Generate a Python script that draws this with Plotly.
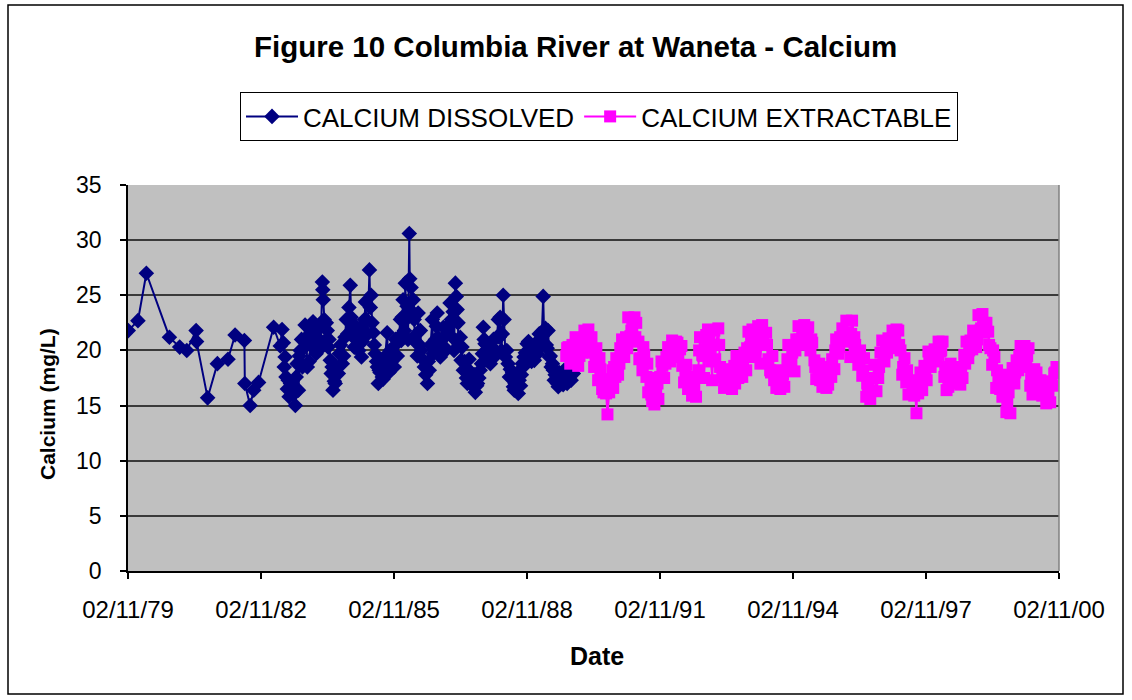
import plotly.graph_objects as go
import pandas as pd

# ---------------- data (decimal years, mg/L) ----------------
dissolved_years = [
    1979.84, 1980.06, 1980.25, 1980.77, 1981.00, 1981.16, 1981.37, 1981.38, 1981.63, 1981.85,
    1982.09, 1982.25, 1982.46, 1982.47, 1982.59, 1982.67, 1982.78, 1983.12, 1983.27,
    1983.31, 1983.34, 1983.38, 1983.40, 1983.45, 1983.47, 1983.54, 1983.61, 1983.63, 1983.68,
    1983.72, 1983.77, 1983.83, 1983.88, 1983.95, 1984.01, 1984.04, 1984.08, 1984.15, 1984.22,
    1984.23, 1984.24, 1984.26, 1984.29, 1984.33, 1984.35, 1984.40, 1984.42, 1984.46, 1984.51,
    1984.58, 1984.60, 1984.67, 1984.73, 1984.76, 1984.82, 1984.85, 1984.87, 1984.92, 1984.94,
    1985.01, 1985.08, 1985.10, 1985.14, 1985.19, 1985.21, 1985.28, 1985.30, 1985.34, 1985.37,
    1985.41, 1985.46, 1985.48, 1985.52, 1985.57, 1985.61, 1985.68, 1985.70, 1985.75, 1985.82,
    1985.84, 1985.91, 1985.98, 1986.00, 1986.04, 1986.07, 1986.09, 1986.11, 1986.18, 1986.19,
    1986.22, 1986.27, 1986.29, 1986.34, 1986.38, 1986.43, 1986.45, 1986.52, 1986.59, 1986.63,
    1986.70, 1986.72, 1986.77, 1986.81, 1986.83, 1986.88, 1986.95, 1986.97, 1987.04, 1987.10,
    1987.13, 1987.15, 1987.22, 1987.24, 1987.26, 1987.33, 1987.35, 1987.40, 1987.47, 1987.51,
    1987.56, 1987.60, 1987.67, 1987.72, 1987.78, 1987.83, 1987.85, 1987.89, 1987.94, 1988.01,
    1988.05, 1988.12, 1988.19, 1988.21, 1988.26, 1988.30, 1988.32, 1988.35, 1988.41, 1988.44,
    1988.48, 1988.53, 1988.57, 1988.64, 1988.66, 1988.71, 1988.75, 1988.77, 1988.84, 1988.91,
    1988.98, 1989.00, 1989.04, 1989.09, 1989.13, 1989.20, 1989.22, 1989.27, 1989.31, 1989.34,
    1989.38, 1989.43, 1989.45, 1989.49, 1989.54, 1989.58, 1989.65, 1989.70, 1989.74, 1989.79,
    1989.83, 1989.88,
]
dissolved_values = [
    21.8, 22.7, 27.0, 21.2, 20.3, 20.0, 21.8, 20.8, 15.7, 18.8,
    19.2, 21.4, 20.9, 17.0, 15.0, 16.4, 17.1, 22.1, 20.4,
    21.9, 20.7, 19.4, 17.6, 17.3, 15.8, 16.5, 15.0, 17.6, 16.4,
    20.0, 18.5, 22.3, 18.5, 20.5, 22.6, 21.2, 19.7, 21.0, 26.2,
    25.5, 24.6, 22.8, 20.9, 21.8, 20.3, 19.1, 17.9, 16.4, 17.0,
    17.9, 19.7, 18.8, 21.2, 22.8, 23.9, 25.9, 23.0, 21.8, 20.3,
    21.0, 22.1, 19.4, 21.5, 24.4, 22.8, 27.3, 23.9, 22.5, 21.6,
    19.7, 18.5, 17.0, 18.0, 17.6, 18.3, 21.6, 19.1, 20.0, 20.3,
    18.5, 19.5, 22.8, 20.9, 24.6, 21.8, 26.1, 22.8, 30.6, 26.5,
    25.7, 24.6, 22.8, 21.5, 23.4, 21.8, 20.0, 18.5, 17.0, 18.2,
    22.8, 19.7, 21.0, 23.4, 21.2, 19.4, 22.1, 20.3, 21.5, 24.3,
    22.8, 21.2, 26.1, 24.9, 23.7, 21.2, 19.1, 18.2, 17.5, 18.2,
    17.3, 16.8, 16.2, 17.0, 18.2, 19.7, 22.1, 20.6, 19.1, 18.8,
    20.3, 19.5, 22.8, 21.2, 20.0, 25.0, 22.8, 19.4, 18.8, 17.6,
    17.5, 16.7, 17.0, 16.1, 17.3, 17.8, 18.5, 19.4, 20.6, 19.5,
    20.3, 19.1, 20.0, 20.9, 20.5, 24.9, 21.6, 20.5, 21.8, 19.4,
    18.5, 18.2, 17.3, 17.8, 16.7, 17.3, 16.9, 17.5, 17.0, 17.9,
    17.3, 17.9,
]
# additional dissolved samples inside the dense 1983-1989 mass
dissolved_years_b = [
    1983.36, 1983.43, 1983.50, 1983.57, 1983.65, 1983.70, 1983.75, 1983.80, 1983.86, 1983.92,
    1983.98, 1984.06, 1984.11, 1984.18, 1984.31, 1984.37, 1984.44, 1984.49, 1984.54, 1984.63,
    1984.70, 1984.79, 1984.90, 1984.97, 1985.04, 1985.12, 1985.17, 1985.24, 1985.32, 1985.39,
    1985.44, 1985.50, 1985.55, 1985.59, 1985.64, 1985.72, 1985.78, 1985.87, 1985.94, 1986.02,
    1986.13, 1986.15, 1986.25, 1986.31, 1986.36, 1986.41, 1986.48, 1986.55, 1986.61, 1986.66,
    1986.75, 1986.79, 1986.86, 1986.92, 1987.00, 1987.07, 1987.17, 1987.19, 1987.28, 1987.30,
    1987.37, 1987.43, 1987.49, 1987.53, 1987.58, 1987.63, 1987.65, 1987.70, 1987.75, 1987.81,
    1987.87, 1987.92, 1987.97, 1988.03, 1988.08, 1988.15, 1988.23, 1988.28, 1988.38, 1988.46,
    1988.51, 1988.55, 1988.60, 1988.69, 1988.73, 1988.80, 1988.87, 1988.94, 1989.02, 1989.07,
    1989.11, 1989.16, 1989.25, 1989.29, 1989.36, 1989.41, 1989.47, 1989.52, 1989.56, 1989.61,
    1989.67, 1989.72, 1989.77,
]
dissolved_values_b = [
    18.5, 16.5, 17.0, 16.0, 18.8, 19.5, 21.0, 20.2, 21.2, 19.0,
    21.8, 20.5, 22.0, 20.2, 22.5, 21.0, 18.5, 17.2, 18.5, 20.5,
    19.5, 21.5, 22.5, 21.0, 20.0, 20.8, 22.8, 21.5, 25.0, 20.5,
    19.0, 18.2, 19.0, 17.4, 19.5, 18.0, 19.0, 21.0, 21.2, 23.0,
    24.0, 21.0, 23.5, 20.8, 19.5, 20.5, 19.2, 17.8, 19.0, 20.5,
    20.0, 22.2, 20.0, 21.0, 20.0, 22.3, 23.5, 20.0, 22.5, 20.5,
    20.3, 19.0, 17.0, 19.2, 18.0, 17.5, 17.8, 16.8, 17.5, 18.8,
    21.0, 20.5, 19.5, 19.8, 21.0, 21.2, 23.0, 21.5, 20.0, 18.3,
    18.0, 16.4, 17.8, 16.8, 18.8, 19.8, 20.8, 19.0, 20.2, 19.7,
    21.5, 20.5, 22.0, 20.2, 19.5, 18.8, 17.8, 17.0, 18.0, 17.0,
    18.2, 17.5, 17.5,
]

extractable_years = [
    1989.72, 1989.77, 1989.81, 1989.86, 1989.90, 1989.95, 1989.99, 1990.04, 1990.08, 1990.13,
    1990.17, 1990.22, 1990.26, 1990.31, 1990.35, 1990.40, 1990.44, 1990.49, 1990.53, 1990.58,
    1990.62, 1990.65, 1990.69, 1990.74, 1990.78,
    1990.80, 1990.85, 1990.89, 1990.94, 1990.98, 1991.03, 1991.07, 1991.12, 1991.17, 1991.21,
    1991.26, 1991.30, 1991.35, 1991.39, 1991.44, 1991.48, 1991.53, 1991.57, 1991.62, 1991.66,
    1991.71, 1991.75, 1991.80,
    1991.84, 1991.89, 1991.93, 1991.98, 1992.02, 1992.07, 1992.11, 1992.16, 1992.20, 1992.25,
    1992.29, 1992.34, 1992.38, 1992.43, 1992.47, 1992.52, 1992.56, 1992.61, 1992.65,
    1992.70, 1992.74, 1992.79, 1992.83, 1992.88, 1992.92, 1992.97, 1993.01, 1993.06, 1993.10,
    1993.15, 1993.19, 1993.24, 1993.28, 1993.33, 1993.37, 1993.42, 1993.46,
    1993.51, 1993.56, 1993.60, 1993.65, 1993.69, 1993.74, 1993.78, 1993.83, 1993.87, 1993.92,
    1993.96, 1994.01, 1994.05, 1994.10, 1994.14, 1994.19, 1994.23, 1994.28, 1994.32, 1994.37,
    1994.41, 1994.46, 1994.50, 1994.55, 1994.59, 1994.64,
    1994.69, 1994.73, 1994.78, 1994.82, 1994.87, 1994.91, 1994.96, 1995.00, 1995.05, 1995.09,
    1995.14, 1995.18, 1995.23, 1995.27, 1995.32, 1995.36, 1995.41, 1995.45, 1995.50, 1995.54,
    1995.59, 1995.63,
    1995.68, 1995.72, 1995.77, 1995.81, 1995.86, 1995.90, 1995.95, 1995.99, 1996.04, 1996.08,
    1996.13, 1996.17, 1996.22, 1996.26, 1996.31, 1996.35, 1996.40, 1996.44, 1996.49, 1996.53,
    1996.58, 1996.62,
    1996.67, 1996.72, 1996.76, 1996.81, 1996.85, 1996.90, 1996.94, 1996.99, 1997.03, 1997.08,
    1997.12, 1997.17, 1997.21, 1997.26, 1997.30, 1997.35, 1997.39, 1997.44, 1997.48, 1997.53,
    1997.57, 1997.62, 1997.66,
    1997.71, 1997.75, 1997.80, 1997.85, 1997.89, 1997.94, 1997.98, 1998.03, 1998.07, 1998.12,
    1998.16, 1998.21, 1998.25, 1998.30, 1998.34, 1998.39, 1998.43, 1998.48, 1998.52, 1998.57,
    1998.61, 1998.66,
    1998.70, 1998.75, 1998.79, 1998.84, 1998.88, 1998.93, 1998.97, 1999.02, 1999.06, 1999.11,
    1999.15, 1999.20, 1999.24, 1999.29, 1999.33, 1999.38, 1999.42, 1999.47, 1999.51, 1999.56,
    1999.60,
    1999.65, 1999.70, 1999.74, 1999.79, 1999.83, 1999.88, 1999.92, 1999.97, 2000.01, 2000.06,
    2000.10, 2000.15, 2000.19, 2000.24, 2000.28, 2000.33, 2000.37, 2000.42, 2000.46, 2000.51,
    2000.55, 2000.60, 2000.64, 2000.69, 2000.73, 2000.78,
]
extractable_values = [
    19.5, 20.3, 18.8, 20.5, 19.2, 20.6, 18.6, 20.9, 19.8, 21.8,
    20.9, 21.9, 20.9, 19.8, 18.5, 20.2, 17.3, 18.3, 16.5, 17.4,
    16.1, 14.2, 16.2, 17.3, 16.6,
    18.5, 19.3, 17.8, 20.2, 21.0, 19.4, 21.2, 23.0, 21.3, 22.0,
    23.0, 22.5, 20.8, 19.3, 18.2, 19.6, 17.6, 16.2, 17.2, 15.4,
    15.1, 16.3, 15.6,
    17.6, 18.6, 17.5, 19.4, 20.3, 19.0, 20.9, 20.1, 20.8, 19.4,
    20.1, 18.6, 17.1, 18.7, 16.5, 17.4, 15.9, 16.8, 15.8,
    18.2, 21.2, 19.6, 17.5, 21.4, 21.9, 19.8, 17.3, 21.8, 20.5,
    22.0, 18.5, 17.6, 16.6, 18.3, 16.8, 17.5, 16.5,
    18.6, 19.5, 17.5, 19.2, 17.6, 19.8, 18.2, 21.7, 20.3, 21.9,
    19.4, 21.6, 22.2, 18.8, 22.3, 20.5, 21.6, 19.2, 18.2, 19.5,
    17.3, 16.6, 17.8, 16.5, 17.1, 16.7,
    18.2, 20.5, 18.5, 19.8, 18.1, 21.0, 22.2, 20.5, 21.8, 22.3,
    20.6, 22.1, 20.0, 20.7, 19.1, 17.4, 18.2, 17.3, 16.7, 17.6,
    16.6, 16.9,
    18.5, 19.2, 18.3, 21.0, 19.7, 21.2, 22.0, 20.8, 22.7, 21.6,
    19.4, 22.7, 21.2, 19.6, 18.7, 20.0, 17.7, 19.3, 15.8, 16.5,
    15.6, 16.4,
    18.7, 16.3, 17.5, 19.8, 20.9, 19.0, 20.4, 21.1, 20.2, 21.8,
    20.8, 21.9, 21.8, 20.0, 17.8, 19.3, 17.1, 16.0, 17.3, 16.4,
    15.9, 14.3, 16.1,
    18.0, 16.4, 18.6, 17.3, 19.9, 18.5, 19.2, 20.1, 19.0, 20.8,
    19.9, 20.8, 17.6, 16.4, 16.7, 18.8, 17.9, 18.4, 17.0, 17.8,
    16.9, 17.5,
    19.6, 20.8, 19.3, 20.9, 20.1, 21.2, 20.3, 23.2, 21.8, 23.3,
    21.6, 22.5, 21.7, 20.2, 18.7, 19.4, 16.6, 17.5, 16.5, 15.8,
    16.7,
    14.4, 16.2, 14.3, 18.4, 17.0, 19.1, 18.2, 20.4, 19.2, 20.4,
    18.5, 20.2, 16.8, 16.0, 18.3, 18.0, 16.5, 17.3, 15.9, 16.2,
    15.2, 15.8, 15.3, 16.8, 17.9, 18.5,
]
# additional extractable samples that thicken each seasonal band
extractable_years_b = [
    1989.74, 1989.84, 1989.93, 1990.02, 1990.11, 1990.20, 1990.29, 1990.38, 1990.47, 1990.56,
    1990.71, 1990.76,
    1990.83, 1990.92, 1991.01, 1991.10, 1991.19, 1991.28, 1991.37, 1991.46, 1991.55, 1991.64,
    1991.73, 1991.78,
    1991.87, 1991.96, 1992.05, 1992.14, 1992.23, 1992.32, 1992.41, 1992.50, 1992.59, 1992.63,
    1992.72, 1992.81, 1992.90, 1992.99, 1993.08, 1993.17, 1993.26, 1993.35, 1993.44,
    1993.53, 1993.62, 1993.71, 1993.80, 1993.89, 1993.98, 1994.07, 1994.16, 1994.25, 1994.34,
    1994.43, 1994.52, 1994.61,
    1994.71, 1994.80, 1994.89, 1994.98, 1995.07, 1995.16, 1995.25, 1995.34, 1995.43, 1995.52,
    1995.61,
    1995.70, 1995.79, 1995.88, 1995.97, 1996.06, 1996.15, 1996.24, 1996.33, 1996.42, 1996.51,
    1996.60,
    1996.70, 1996.78, 1996.87, 1996.96, 1997.05, 1997.14, 1997.23, 1997.32, 1997.41, 1997.50,
    1997.59, 1997.64,
    1997.73, 1997.82, 1997.91, 1998.00, 1998.10, 1998.18, 1998.27, 1998.36, 1998.45, 1998.54,
    1998.63,
    1998.72, 1998.81, 1998.90, 1998.99, 1999.08, 1999.17, 1999.26, 1999.35, 1999.44, 1999.53,
    1999.58,
    1999.67, 1999.76, 1999.85, 1999.94, 2000.03, 2000.12, 2000.21, 2000.30, 2000.39, 2000.48,
    2000.57, 2000.66, 2000.75,
]
extractable_values_b = [
    20.2, 19.6, 21.2, 19.5, 21.0, 20.5, 21.2, 19.0, 19.3, 16.2,
    17.0, 18.2,
    17.6, 18.8, 20.8, 20.2, 21.8, 21.2, 19.2, 20.3, 18.8, 16.0,
    17.5, 17.0,
    19.0, 18.8, 19.8, 19.5, 20.7, 20.4, 18.0, 17.0, 16.4, 17.6,
    20.0, 19.5, 20.8, 19.0, 19.2, 20.5, 17.8, 17.8, 18.2,
    17.0, 18.2, 18.8, 20.2, 20.8, 20.0, 21.0, 20.8, 20.5, 18.0,
    18.2, 17.2, 17.8,
    19.2, 19.0, 20.0, 21.0, 20.8, 21.3, 21.0, 18.5, 18.8, 17.8,
    17.6,
    17.6, 20.0, 20.3, 21.4, 21.0, 21.5, 20.5, 19.0, 18.2, 17.0,
    17.5,
    17.5, 18.5, 19.8, 19.8, 21.0, 20.8, 20.5, 18.5, 18.2, 17.2,
    16.2, 17.0,
    17.5, 18.0, 19.5, 19.8, 19.6, 20.0, 18.5, 17.5, 17.3, 18.3,
    18.5,
    18.8, 20.0, 21.8, 21.0, 22.0, 22.5, 20.5, 20.0, 18.2, 17.0,
    17.8,
    15.2, 17.5, 18.0, 19.5, 19.8, 19.5, 17.5, 17.0, 16.8, 16.8,
    16.2, 17.2, 18.0,
]

tick_dates = ["1979-11-02", "1982-11-02", "1985-11-02", "1988-11-02",
              "1991-11-02", "1994-11-02", "1997-11-02", "2000-11-02"]
tick_labels = ["02/11/79", "02/11/82", "02/11/85", "02/11/88",
               "02/11/91", "02/11/94", "02/11/97", "02/11/00"]


def merged(y1, v1, y2, v2):
    pairs = sorted(zip(list(y1) + list(y2), list(v1) + list(v2)), key=lambda p: p[0])
    dates = []
    for y, _ in pairs:
        yr = int(y)
        dates.append(pd.Timestamp(yr, 1, 1) + pd.Timedelta(days=(y - yr) * 365.25))
    return dates, [v for _, v in pairs]


FONT = "Liberation Sans, Arial, sans-serif"
W, H = 1132, 700
L, R, T, B = 128, 1059, 185, 571  # plot area pixels
pw, ph = R - L, B - T


def px(x):
    return (x - L) / pw


def py(y):
    return (B - y) / ph


dx, dv = merged(dissolved_years, dissolved_values, dissolved_years_b, dissolved_values_b)
ex, ev = merged(extractable_years, extractable_values, extractable_years_b, extractable_values_b)

fig = go.Figure()
fig.add_trace(go.Scatter(
    x=dx, y=dv, name="CALCIUM DISSOLVED",
    mode="lines+markers",
    line=dict(color="#000080", width=2),
    marker=dict(symbol="diamond", size=12, color="#000080", line=dict(width=0)),
))
fig.add_trace(go.Scatter(
    x=ex, y=ev, name="CALCIUM EXTRACTABLE",
    mode="lines+markers",
    line=dict(color="#FF00FF", width=2),
    marker=dict(symbol="square", size=12, color="#FF00FF", line=dict(width=0)),
))

fig.update_layout(
    width=W, height=H,
    margin=dict(l=L, r=W - R, t=T, b=H - B),
    paper_bgcolor="white",
    plot_bgcolor="#C0C0C0",
    font=dict(family=FONT, color="black", size=20),
    showlegend=True,
    legend=dict(
        orientation="h", x=px(599), xanchor="center", y=py(92), yanchor="top",
        bordercolor="black", borderwidth=1, bgcolor="white",
        itemwidth=52,
        font=dict(family=FONT, size=26, color="black"),
    ),
    xaxis=dict(
        type="date", range=["1979-11-02", "2000-11-02"],
        tickvals=tick_dates, ticktext=tick_labels,
        showgrid=False, zeroline=False,
        showline=True, linecolor="black", linewidth=1.5, mirror=False,
        ticks="outside", ticklen=6, tickcolor="black", tickwidth=1.5,
        tickfont=dict(family=FONT, size=24), ticklabelstandoff=10,
    ),
    yaxis=dict(
        range=[0, 35], dtick=5, tick0=0,
        showgrid=True, gridcolor="#3a3a3a", gridwidth=1.5,
        zeroline=False,
        showline=True, linecolor="black", linewidth=1.5,
        ticks="outside", ticklen=6, tickcolor="black", tickwidth=1.5,
        tickfont=dict(family=FONT, size=23), ticklabelstandoff=14,
    ),
    annotations=[
        dict(text="<b>Figure 10 Columbia River at Waneta - Calcium</b>",
             x=px(575), y=py(46), xref="paper", yref="paper",
             showarrow=False, xanchor="center", yanchor="middle",
             font=dict(family=FONT, size=29.5)),
        dict(text="<b>Date</b>", x=px(597), y=py(656), xref="paper", yref="paper",
             showarrow=False, xanchor="center", yanchor="middle",
             font=dict(family=FONT, size=25)),
        dict(text="<b>Calcium (mg/L)</b>", x=px(47), y=py(404), xref="paper", yref="paper",
             showarrow=False, xanchor="center", yanchor="middle", textangle=-90,
             font=dict(family=FONT, size=21)),
    ],
    shapes=[
        dict(type="rect", xref="paper", yref="paper",
             x0=px(8), x1=px(1123), y0=py(694), y1=py(5),
             line=dict(color="black", width=1.5), fillcolor="rgba(0,0,0,0)", layer="below"),
        dict(type="line", xref="paper", yref="paper", x0=1, x1=1, y0=0, y1=1,
             line=dict(color="#808080", width=1.5)),
    ],
)

fig.write_html("out.html")
